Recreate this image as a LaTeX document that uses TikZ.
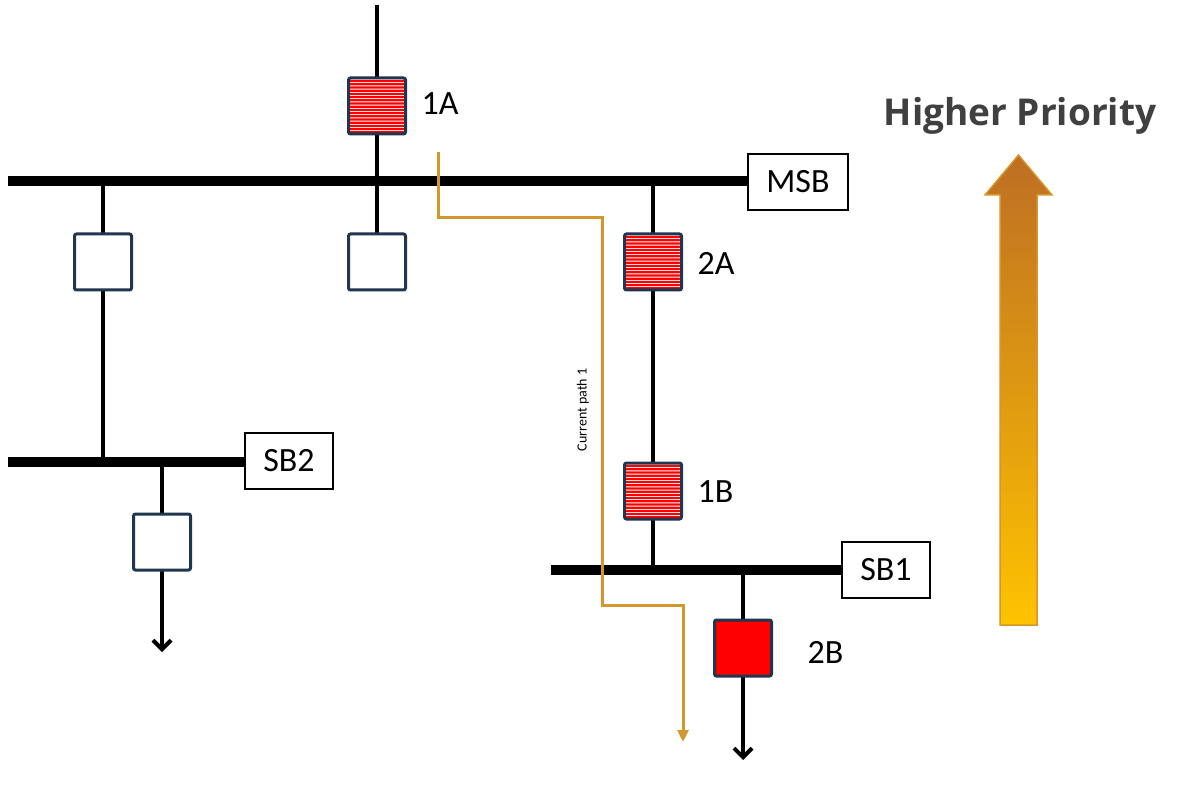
\documentclass[tikz,border=0pt]{standalone}
\usepackage{fontspec}
\setmainfont{Carlito}
\newfontfamily\headfont{Open Sans}
\usetikzlibrary{arrows.meta}
\definecolor{navy}{HTML}{1F3550}
\definecolor{path}{HTML}{D4972E}
\tikzset{
 x=1pt,y=-1pt,
 bus/.style={line width=10pt},
 wire/.style={line width=4.5pt},
 brk/.style={draw=navy,line width=3pt,rounded corners=2pt,fill=white,minimum width=57pt,minimum height=56pt,inner sep=0pt},
 hatched/.style={brk,path picture={\foreach \k in {0,...,16}{\fill[red] ([yshift=-3.2*\k pt-2pt]path picture bounding box.north west) rectangle ([yshift=-3.2*\k pt-4.2pt]path picture bounding box.north east);}}},
 lbl/.style={font=\fontsize{34}{40}\selectfont,anchor=west},
 boxlbl/.style={draw=black,line width=2.5pt,fill=white,font=\fontsize{34}{40}\selectfont,inner sep=0pt,minimum height=56pt},
 arr/.style={-{Straight Barb[length=9pt,width=18pt,line width=4pt]}}
}
\begin{document}
\begin{tikzpicture}
\useasboundingbox (0,0) rectangle (1183,794);
% buses
\draw[bus] (8,181) -- (748,181);
\draw[bus] (8,462) -- (245,462);
\draw[bus] (551,570) -- (842,570);
% wires
\coordinate (top) at (377,5);
\draw[wire] (top) -- (377,181) -- (377,262);
\draw[wire] (103,181) -- (103,462);
\draw[wire] (653,181) -- (653,570);
\coordinate (e2) at (162,652);
\coordinate (e1) at (743,760);
\draw[wire,arr] (162,462) -- (e2);
\draw[wire,arr] (743,570) -- (e1);
% breakers
\node[hatched] (b1A) at (377,106) {};
\node[brk] (bL) at (103,262) {};
\node[brk] (bM) at (377,262) {};
\node[hatched] (b2A) at (653,262) {};
\node[hatched] (b1B) at (653,491) {};
\node[brk] (bS) at (162,542) {};
\node[brk,fill=red] (b2B) at (743,648) {};
% labels
\node[lbl] at (418,104) {1A};
\node[lbl] at (694,263) {2A};
\node[lbl] at (694,492) {1B};
\node[lbl] at (804,652) {2B};
\node[boxlbl,minimum width=100pt] (MSB) at (798,182) {MSB};
\node[boxlbl,minimum width=88pt] (SB2) at (289,461) {SB2};
\node[boxlbl,minimum width=88pt] (SB1) at (886,570) {SB1};
% current path
\coordinate (cs) at (438,152);
\coordinate (ce) at (683,742);
\draw[path,line width=3pt,-{Triangle[length=12pt,width=11pt]}] (cs) -- (438,218) -- (602,218) -- (602,605) -- (683,605) -- (ce);
\node[rotate=90,font=\fontsize{14}{16}\selectfont] (cp) at (583,410) {Current path 1};
% priority arrow
\shade[bottom color=orange!30!yellow!90!red,top color={rgb,255:red,190;green,110;blue,35},draw=path,line width=1.5pt]
 (1000,625) -- (1000,195) -- (985,195) -- (1018.5,155) -- (1052,195) -- (1037,195) -- (1037,625) -- cycle;
\node[font=\headfont\bfseries\fontsize{37}{44}\selectfont,text={rgb,255:red,64;green,64;blue,64}] (hp) at (1020,116) {Higher Priority};
\end{tikzpicture}
\end{document}
